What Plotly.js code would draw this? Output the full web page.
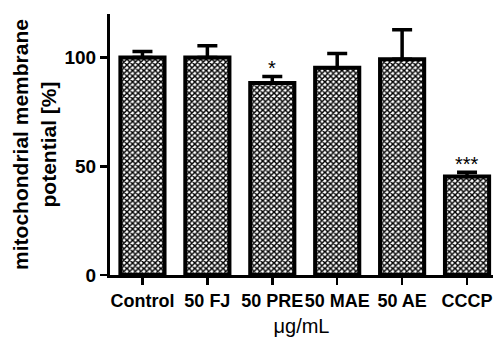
<!DOCTYPE html>
<html>
<head>
<meta charset="utf-8">
<script src="https://cdn.plot.ly/plotly-3.0.1.min.js"></script>
<style>html,body{margin:0;padding:0;background:#fff;}#chart{width:493px;height:338px;}</style>
</head>
<body>
<div id="chart"></div>
<script>
const categories = ["Control", "50 FJ", "50 PRE", "50 MAE", "50 AE", "CCCP"];
const values = [100, 100, 88.3, 95.3, 99.2, 45.3];
const errorsUp = [2.8, 5.4, 3.0, 6.5, 13.6, 1.9];
const significance = ["", "", "*", "", "", "***"];
const yTicks = [0, 50, 100];

const FONT = "Arial, 'Liberation Sans', sans-serif";

const trace = {
  type: "bar",
  x: categories,
  y: values,
  width: 0.68,
  marker: {
    color: "white",
    line: {color: "black", width: 4},
    pattern: {shape: "x", size: 4, solidity: 0.6, fgcolor: "black", bgcolor: "white"}
  },
  error_y: {
    type: "data",
    symmetric: false,
    array: errorsUp,
    arrayminus: categories.map(() => 0),
    color: "black",
    thickness: 3.5,
    width: 10
  },
  hoverinfo: "none"
};

const annotations = [];
categories.forEach((c, i) => {
  if (significance[i]) {
    annotations.push({
      x: c, y: values[i] + errorsUp[i], xref: "x", yref: "y",
      text: significance[i], showarrow: false,
      yanchor: "bottom", yshift: -5,
      font: {family: FONT, size: 20, color: "black"}
    });
  }
});

const layout = {
  width: 493, height: 338,
  margin: {l: 110, r: 0, t: 14, b: 63},
  paper_bgcolor: "white", plot_bgcolor: "white",
  showlegend: false,
  xaxis: {
    type: "category",
    range: [-0.5, 5.4],
    showline: true, linecolor: "black", linewidth: 3,
    ticks: "outside", ticklen: 7, tickwidth: 2.5, tickcolor: "black",
    tickangle: 0,
    showgrid: false, zeroline: false,
    tickfont: {family: FONT, size: 18, color: "black", weight: "bold"},
    title: {text: "μg/mL", standoff: 10, font: {family: FONT, size: 20, color: "black"}}
  },
  yaxis: {
    range: [0, 120],
    tickvals: yTicks,
    ticktext: yTicks.map(String),
    showline: true, linecolor: "black", linewidth: 3,
    ticks: "outside", ticklen: 7, tickwidth: 2.5, tickcolor: "black",
    showgrid: false, zeroline: false,
    tickfont: {family: FONT, size: 19, color: "black", weight: "bold"},
    title: {text: "mitochondrial membrane<br>potential [%]", standoff: 3, font: {family: FONT, size: 21, color: "black", weight: "bold"}}
  },
  annotations: annotations
};

Plotly.newPlot("chart", [trace], layout, {displayModeBar: false, staticPlot: true});
</script>
</body>
</html>
